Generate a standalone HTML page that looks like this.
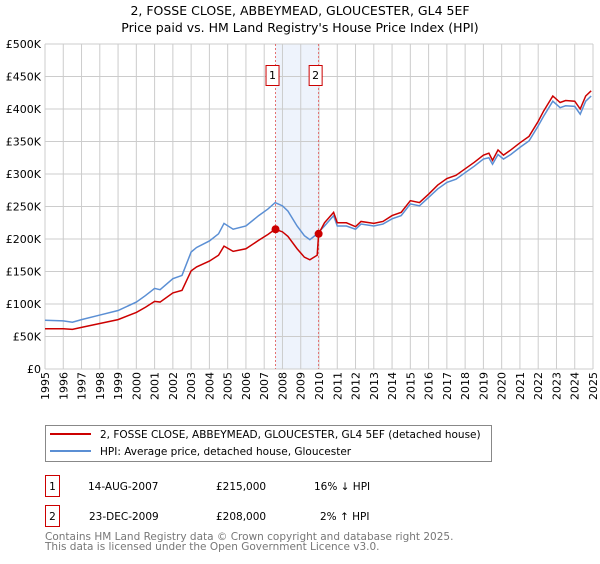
<!DOCTYPE html>
<html><head><meta charset="utf-8"><style>
body{margin:0;background:#fff;font-family:"DejaVu Sans","Liberation Sans",sans-serif;}
svg text{font-family:"DejaVu Sans","Liberation Sans",sans-serif;}
</style></head><body>
<svg id="c" width="600" height="560" viewBox="0 0 600 560" xmlns="http://www.w3.org/2000/svg">
<text x="300" y="15" text-anchor="middle" font-size="12.5">2, FOSSE CLOSE, ABBEYMEAD, GLOUCESTER, GL4 5EF</text>
<text x="300" y="32" text-anchor="middle" font-size="12.5">Price paid vs. HM Land Registry's House Price Index (HPI)</text>
<g id="grid"></g><g id="marks"></g><g id="axes"></g>
<g>
<rect x="45.5" y="425.5" width="446" height="36" fill="#fff" stroke="#888"/>
<line x1="50" y1="434" x2="91" y2="434" stroke="#cc0000" stroke-width="2"/>
<text x="100" y="438" font-size="10.5">2, FOSSE CLOSE, ABBEYMEAD, GLOUCESTER, GL4 5EF (detached house)</text>
<line x1="50" y1="451" x2="91" y2="451" stroke="#5b8fd4" stroke-width="2"/>
<text x="100" y="455" font-size="10.5">HPI: Average price, detached house, Gloucester</text>
</g>
<g font-size="10.5">
<rect x="45.5" y="475.5" width="14" height="21" fill="none" stroke="#cc0000"/>
<text x="52.5" y="490" text-anchor="middle">1</text>
<text x="88" y="490">14-AUG-2007</text><text x="216" y="490">£215,000</text><text x="314" y="490">16% ↓ HPI</text>
<rect x="45.5" y="505.5" width="14" height="21" fill="none" stroke="#cc0000"/>
<text x="52.5" y="520" text-anchor="middle">2</text>
<text x="89" y="520">23-DEC-2009</text><text x="216" y="520">£208,000</text><text x="320" y="520">2% ↑ HPI</text>
</g>
<text x="45" y="540" font-size="10.5" fill="#777">Contains HM Land Registry data © Crown copyright and database right 2025.</text>
<text x="45" y="550" font-size="10.5" fill="#777">This data is licensed under the Open Government Licence v3.0.</text>
</svg>
<script>
const hpiYears=[1995,1996,1996.5,1997,1998,1999,2000,2000.5,2001,2001.3,2002,2002.5,2003,2003.3,2004,2004.5,2004.8,2005.3,2006,2006.7,2007.2,2007.6,2008,2008.3,2008.8,2009.2,2009.5,2009.9,2010.3,2010.8,2011,2011.5,2012,2012.3,2013,2013.5,2014,2014.5,2015,2015.5,2016,2016.5,2017,2017.5,2018,2018.5,2019,2019.3,2019.5,2019.8,2020.1,2020.5,2021,2021.5,2022,2022.3,2022.8,2023.2,2023.5,2024,2024.3,2024.6,2024.9];
const hpiValues=[75,74,72,76,83,90,103,113,124,122,139,144,180,187,197,208,224,215,220,236,246,256,251,243,220,205,199,208,220,236,220,220,215,223,220,223,231,236,254,251,264,277,287,292,302,312,323,325,315,330,323,330,341,351,374,389,412,402,405,404,392,412,420];
const redYears=[1995,1996,1996.5,1997,1998,1999,2000,2000.5,2001,2001.3,2002,2002.5,2003,2003.3,2004,2004.5,2004.8,2005.3,2006,2006.7,2007.2,2007.6,2008,2008.3,2008.8,2009.2,2009.5,2009.9,2009.98,2010.3,2010.8,2011,2011.5,2012,2012.3,2013,2013.5,2014,2014.5,2015,2015.5,2016,2016.5,2017,2017.5,2018,2018.5,2019,2019.3,2019.5,2019.8,2020.1,2020.5,2021,2021.5,2022,2022.3,2022.8,2023.2,2023.5,2024,2024.3,2024.6,2024.9];
const redValues=[62,62,61,64,70,76,87,95,104,103,117,121,151,157,166,175,189,181,185,198,207,215,211,204,185,172,168,175,208,225,241,225,225,219,227,224,227,236,241,259,256,269,283,293,298,308,318,329,332,321,337,329,337,348,358,381,397,420,410,413,412,400,420,428];
const saleYears=[2007.62,2009.98];
const saleValues=[215,208];
const saleLabels=["1","2"];
const yTicks=[0,50,100,150,200,250,300,350,400,450,500];
const yTickLabels=["£0","£50K","£100K","£150K","£200K","£250K","£300K","£350K","£400K","£450K","£500K"];
const L=45,R=593,T=44,B=369,X0=1995,X1=2025,YMAX=500;
const xs=y=>L+(y-X0)/(X1-X0)*(R-L);
const ys=v=>B-v/YMAX*(B-T);
const NS="http://www.w3.org/2000/svg";
function mk(p,t,a){const e=document.createElementNS(NS,t);for(const k in a)e.setAttribute(k,a[k]);p.appendChild(e);return e;}
const g=document.getElementById('grid'),m=document.getElementById('marks'),ax=document.getElementById('axes');
const sh=mk(g,'rect',{x:xs(saleYears[0]),y:T,width:xs(saleYears[1])-xs(saleYears[0]),height:B-T,fill:'#eef3fc'});


for(let y=X0;y<=X1;y++){
 const l=mk(g,'line',{x1:xs(y),x2:xs(y),y1:T,y2:B,stroke:'#cccccc'});
 
 
 const t=mk(ax,'text',{x:0,y:0,'font-size':11,'text-anchor':'end',transform:`translate(${xs(y)+4},${B+3}) rotate(-90)`});
 t.textContent=y;
 
 
}
yTicks.forEach((v,i)=>{
 const l=mk(g,'line',{x1:L,x2:R,y1:ys(v),y2:ys(v),stroke:'#cccccc'});
 
 
 const t=mk(ax,'text',{x:L-4,y:ys(v)+4,'font-size':11,'text-anchor':'end'});
 t.textContent=yTickLabels[i];
 
 
});
saleYears.forEach((y,i)=>{
 const l=mk(m,'line',{x1:xs(y),x2:xs(y),y1:T,y2:B,stroke:'#e05050','stroke-dasharray':'2,2','stroke-width':0.8});
 
 
});
const pb=mk(m,'polyline',{points:hpiYears.map((y,i)=>xs(y)+','+ys(hpiValues[i])).join(' '),fill:'none',stroke:'#5b8fd4','stroke-width':1.5});


const pr=mk(m,'polyline',{points:redYears.map((y,i)=>xs(y)+','+ys(redValues[i])).join(' '),fill:'none',stroke:'#cc0000','stroke-width':1.5});


saleYears.forEach((y,i)=>{
 const c=mk(m,'circle',{cx:xs(y),cy:ys(saleValues[i]),r:4,fill:'#cc0000'});
 
 
 const bx=mk(m,'rect',{x:xs(y)-9.5,y:65.5,width:13,height:20,fill:'#fff',stroke:'#cc0000'});
 
 
 const t=mk(m,'text',{x:xs(y)-3,y:79,'font-size':11,'text-anchor':'middle'});
 t.textContent=saleLabels[i];
 
 
});
</script>
</body></html>
